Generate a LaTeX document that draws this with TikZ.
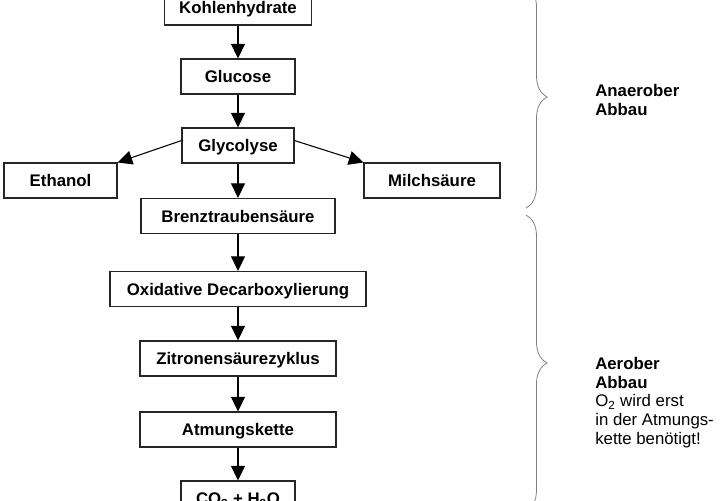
\documentclass[tikz,border=0pt]{standalone}
\usepackage{fontspec}
\setmainfont{Liberation Sans}
\usetikzlibrary{arrows.meta, decorations.pathreplacing}
\tikzset{stoff/.style={draw=black!85, line width=0.8pt, minimum height=26.25pt, inner sep=0pt, text height=9.2pt, text depth=0pt, font=\bfseries\fontsize{12.6}{14}\selectfont},
         pfeil/.style={->, line width=0.8pt},
         klammer/.style={draw=black!50, line width=0.6pt, decorate, decoration={brace, amplitude=15.75pt}},
         notiz/.style={anchor=north west, inner sep=0pt, align=left, font=\fontsize{12.6}{14}\selectfont},
         >={Triangle[width=10.5pt,length=11pt]}
        }

\begin{document}
\begin{tikzpicture}[x=0.75pt, y=-0.75pt]
        \useasboundingbox (0,0) rectangle (720,500);
        \clip (0,0) rectangle (720,500);

        \node[stoff, minimum width=110.25pt](kh)at(238,7.5){Kohlenhydrate};
        \node[stoff, minimum width=85.5pt](glu)at(238,76.5){Glucose};
        \node[stoff, minimum width=84pt](gly)at(238,145.5){Glycolyse};
        \node[stoff, minimum width=84.75pt](eth)at(60.5,180.5){Ethanol};
        \node[stoff, minimum width=102pt](milch)at(432,180.5){Milchsäure};
        \node[stoff, minimum width=145.5pt](bts)at(238,216){Brenztraubensäure};
        \node[stoff, minimum width=192pt](odc)at(238,289){Oxidative Decarboxylierung};
        \node[stoff, minimum width=147pt](zyk)at(238,358.5){Zitronensäurezyklus};
        \node[stoff, minimum width=147pt](atm)at(238,429.5){Atmungskette};
        \node[stoff, minimum width=85.5pt](prod)at(238,498.5){CO\textsubscript{2} + H\textsubscript{2}O};

        \draw[pfeil](kh)--(glu);
        \draw[pfeil](glu)--(gly);
        \draw[pfeil](gly.175)--(eth.north east);
        \draw[pfeil](gly.5)--(milch.north west);
        \draw[pfeil](gly)--(bts);
        \draw[pfeil](bts)--(odc);
        \draw[pfeil](odc)--(zyk);
        \draw[pfeil](zyk)--(atm);
        \draw[pfeil](atm)--(prod);

        % Klammern rechts
        \coordinate(an1)at(526,-14);
        \coordinate(an2)at(526,208);
        \coordinate(ae1)at(526,215);
        \coordinate(ae2)at(526,511);
        \draw[klammer](an1)--(an2);
        \draw[klammer](ae1)--(ae2);

        \node[notiz](anaerob)at(595,84){\textbf{Anaerober}\\\textbf{Abbau}};
        \node[notiz](aerob)at(595,357){\textbf{Aerober}\\\textbf{Abbau}\\O\textsubscript{2} wird erst\\in der Atmungs-\\kette benötigt!};
    \end{tikzpicture}
\end{document}
